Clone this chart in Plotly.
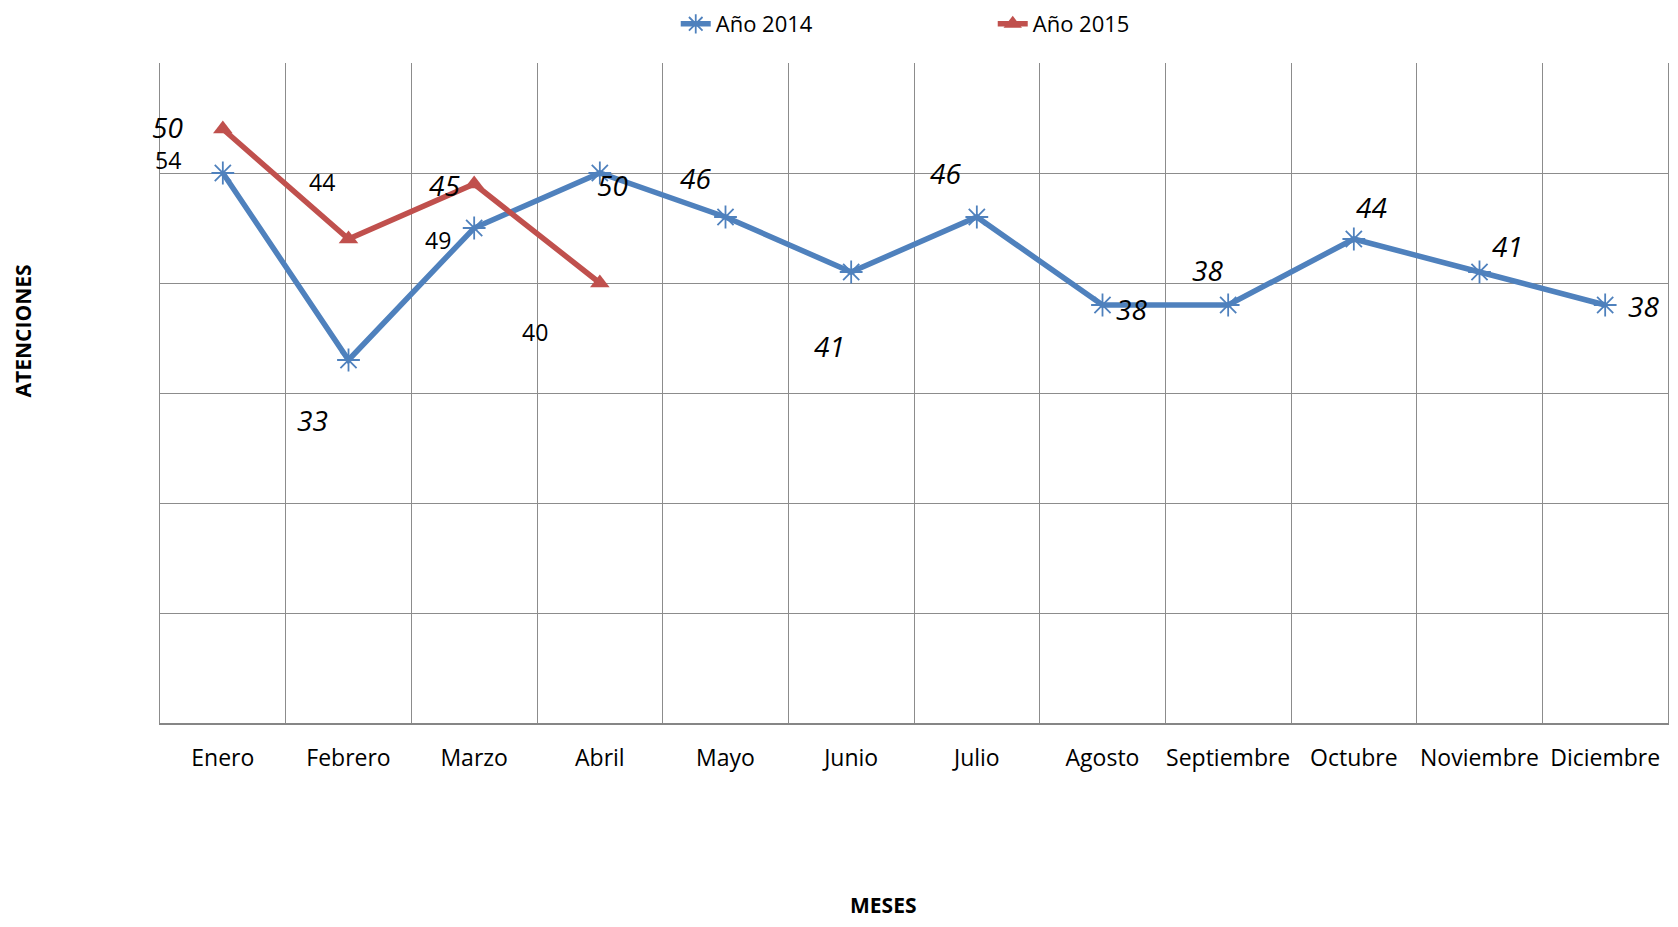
import plotly.graph_objects as go

months = ["Enero", "Febrero", "Marzo", "Abril", "Mayo", "Junio", "Julio",
          "Agosto", "Septiembre", "Octubre", "Noviembre", "Diciembre"]
atenciones_2014 = [50, 33, 45, 50, 46, 41, 46, 38, 38, 44, 41, 38]
months_2015 = ["Enero", "Febrero", "Marzo", "Abril"]
atenciones_2015 = [54, 44, 49, 40]

# label offsets (pixels) relative to each point, as placed in the original
off_2014_x = [-55, -36, -30, 13, -30, -22, -31, 29, -21, 18, 28, 38]
off_2014_y = [46, -60, 43, -12, 39, -74, 44, -4, 35, 32, 26, -1]
off_2015_x = [-55, -27, -36, -65]
off_2015_y = [-31, 57, -56, -49]

BLUE = "#4F81BD"
RED = "#C0504D"
GRID = "#8C8C8C"
FONT = "Open Sans"

fig = go.Figure()
fig.add_trace(go.Scatter(
    x=months, y=atenciones_2014, name="Año 2014", mode="lines+markers",
    line=dict(color=BLUE, width=5.5),
    marker=dict(symbol="asterisk-open", size=19, color=BLUE,
                line=dict(color=BLUE, width=1.8)),
))
fig.add_trace(go.Scatter(
    x=months_2015, y=atenciones_2015, name="Año 2015", mode="lines+markers",
    line=dict(color=RED, width=5.5),
    marker=dict(symbol="triangle-up", size=17, color=RED),
))

annotations = []
for m, v, dx, dy in zip(months, atenciones_2014, off_2014_x, off_2014_y):
    annotations.append(dict(x=m, y=v, xref="x", yref="y", text=str(v),
                            showarrow=False, xshift=dx, yshift=dy,
                            font=dict(family=FONT, size=28, color="black",
                                      style="italic")))
for m, v, dx, dy in zip(months_2015, atenciones_2015, off_2015_x, off_2015_y):
    annotations.append(dict(x=m, y=v, xref="x", yref="y", text=str(v),
                            showarrow=False, xshift=dx, yshift=dy,
                            font=dict(family=FONT, size=23, color="black")))

annotations.append(dict(text="<b>ATENCIONES</b>", xref="paper", yref="paper",
                        x=-0.0907, y=0.5937, xanchor="center", yanchor="middle",
                        textangle=-90, showarrow=False,
                        font=dict(family=FONT, size=21, color="black")))
annotations.append(dict(text="<b>MESES</b>", xref="paper", yref="paper",
                        x=0.4795, y=-0.2752, xanchor="center", yanchor="middle",
                        showarrow=False,
                        font=dict(family=FONT, size=21, color="black")))

fig.update_layout(
    width=1662, height=911,
    margin=dict(l=152, r=2, t=55, b=196, autoexpand=False),
    paper_bgcolor="white", plot_bgcolor="white",
    font=dict(family=FONT, color="black"),
    showlegend=True,
    legend=dict(orientation="h", x=0.342, xanchor="left", y=1.0591,
                yanchor="middle", font=dict(family=FONT, size=22),
                entrywidth=272, entrywidthmode="pixels",
                bgcolor="rgba(0,0,0,0)"),
    annotations=annotations,
)
fig.update_xaxes(
    type="category", categoryorder="array", categoryarray=months,
    range=[-0.5, 11.5], tickson="boundaries", showgrid=True,
    gridcolor=GRID, gridwidth=1.3, ticks="", ticklabelstandoff=13,
    tickangle=0, automargin=False,
    tickfont=dict(family=FONT, size=23, color="black"),
    showline=True, linecolor="#868686", linewidth=2, mirror=False,
    zeroline=False,
)
fig.update_yaxes(
    range=[0, 60], dtick=10, showticklabels=False, showgrid=True,
    gridcolor=GRID, gridwidth=1.3, ticks="", zeroline=False, automargin=False,
    showline=True, linecolor=GRID, linewidth=1.3, mirror=True,
)

fig.write_html("out.html")
